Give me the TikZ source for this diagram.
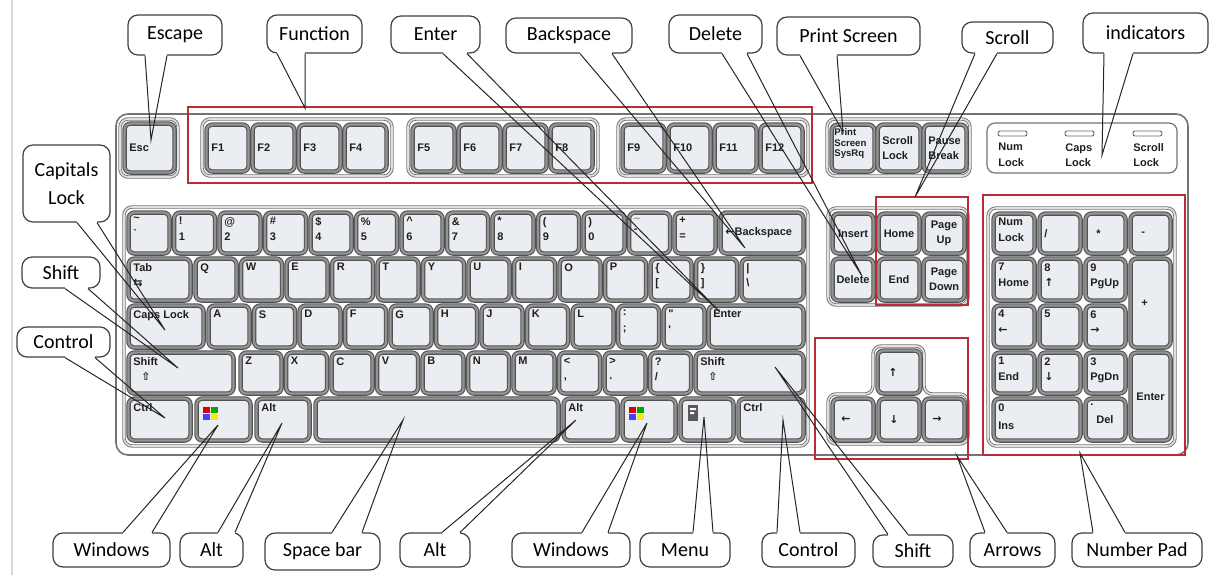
\documentclass[tikz,border=0pt]{standalone}
\usepackage{fontspec}
\setmainfont{Carlito}
\newfontfamily\keyfont{Liberation Sans}
\newfontfamily\symfont{DejaVu Sans}

\definecolor{keyred}{RGB}{185,45,55}
\definecolor{keyface}{RGB}{234,237,241}

\tikzset{
  keycap/.style={draw=black!68, double=black!42, double distance=1.1pt, line width=.55pt,
                 fill=keyface, rounded corners=3pt, inner sep=0pt},
  keytext/.style={font=\keyfont\bfseries\fontsize{5.5}{7.6}\selectfont, align=left, inner sep=0pt, text=black!88},
  keygroup/.style={draw=black!55, double=black!12, double distance=.8pt, line width=.45pt,
                   fill=white, rounded corners=4pt},
  redbox/.style={draw=keyred, line width=1.3pt},
  callout/.style={draw=black!75, line width=.6pt, rounded corners=5pt, fill=white,
                  font=\fontsize{10}{14}\selectfont, inner sep=1pt, align=center},
  pointer/.style={draw=black!85, line width=.5pt},
  gap/.style={draw=white, line width=1.4pt},
  led/.style={draw=black!60, line width=.45pt, fill=white, rounded corners=1pt}
}

% key body, then key with label top left / middle left / centre
\newcommand\kbcap[5]{\node[keycap, minimum width=#4*.5pt, minimum height=#5*.5pt, anchor=north west] (#1) at (#2,#3) {};}
\newcommand\kbkey[7][]{\kbcap{#2}{#3}{#4}{#5}{#6}
  \node[keytext, anchor=north west, #1] (#2-t) at ([shift={(5,5)}]#2.north west) {#7};}
\newcommand\kbkeyw[7][]{\kbcap{#2}{#3}{#4}{#5}{#6}
  \node[keytext, anchor=west, #1] (#2-t) at ([xshift=2.5pt]#2.west) {#7};}
\newcommand\kbkeyc[7][]{\kbcap{#2}{#3}{#4}{#5}{#6}
  \node[keytext, align=center, #1] (#2-t) at (#2) {#7};}
\newcommand\winlogo[2]{%
  \fill[red!85!black] (#1,#2) rectangle ++(7,6);
  \fill[green!65!black] (#1+8,#2) rectangle ++(7,6);
  \fill[blue!75] (#1,#2+7) rectangle ++(7,6);
  \fill[yellow!90!orange] (#1+8,#2+7) rectangle ++(7,6);}
% callout wedge: border anchor, two x values on it, tip
\newcommand\callpointer[4]{\draw[gap] (#2,0 |- #1) -- (#3,0 |- #1);
  \draw[pointer] (#2,0 |- #1) -- (#4) -- (#3,0 |- #1);}

\begin{document}
\begin{tikzpicture}[x=.5pt, y=-.5pt]
  \useasboundingbox (0,0) rectangle (1217,575);
  \draw[black!15, line width=.6pt] (12,0) -- (12,575);

  % keyboard body
  \draw[draw=black!55, line width=.8pt, rounded corners=6pt] (116,114) rectangle (1188,455);

  % function row
  \draw[keygroup] (120,119) rectangle (178,177);
  \kbkeyw{esc}{124}{123}{50}{49}{Esc}
  \draw[keygroup] (202,119) rectangle (392,176);
  \draw[keygroup] (408,119) rectangle (598,176);
  \draw[keygroup] (618,119) rectangle (808,176);
  \foreach \n [count=\i from 0] in {1,...,4} {\kbkeyw{f\n}{206+46*\i}{124}{42}{47}{F\n}}
  \foreach \n [count=\i from 0] in {5,...,8} {\kbkeyw{f\n}{412+46*\i}{124}{42}{47}{F\n}}
  \foreach \n [count=\i from 0] in {9,...,12} {\kbkeyw{f\n}{622+46*\i}{124}{42}{47}{F\n}}
  \draw[keygroup] (827,119) rectangle (970,176);
  \kbkey[font=\keyfont\bfseries\fontsize{4.8}{5.4}\selectfont, shift={(-2,-1)}]{prt}{831}{124}{43}{47}{Print\\Screen\\SysRq}
  \kbkeyw{scrl}{877}{124}{43}{47}{Scroll\\Lock}
  \kbkeyw{pause}{923}{124}{43}{47}{Pause\\Break}

  % indicators
  \draw[draw=black!55, line width=.6pt, rounded corners=4pt] (987,123) rectangle (1177,173);
  \foreach \x/\t in {998/{Num\\Lock},1065/{Caps\\Lock},1133/{Scroll\\Lock}}
    {\draw[led] (\x,131) rectangle ++(29,5);
     \node[keytext, anchor=north west] (led\x) at (\x,143) {\t};}

  % main block
  \draw[keygroup] (124,207) rectangle (808,446);
  \foreach \t [count=\i from 0] in {{\textasciitilde\\\textasciigrave},{!\\1},{@\\2},{\#\\3},{\$\\4},{\%\\5},
      {\textasciicircum\\6},{\&\\7},{*\\8},{(\\9},{)\\0},{\_\\-},{+\\=}}
    {\kbkey{n\i}{128+45.5*\i}{212}{41}{41}{\t}}
  \kbkeyw{bksp}{720}{212}{83}{41}{{\symfont ←}Backspace}
  \kbkey{tab}{128}{258}{62}{42}{Tab\\{\symfont ⇆}}
  \foreach \t [count=\i from 0] in {Q,W,E,R,T,Y,U,I,O,P,{\{\\{[}},{\}\\{]}}}
    {\kbkey{q\i}{195+45.5*\i}{258}{41}{42}{\t}}
  \kbkey{bsl}{741}{258}{62}{42}{|\\\textbackslash}
  \kbkey{caps}{128}{305}{75}{42}{Caps Lock}
  \foreach \t [count=\i from 0] in {A,S,D,F,G,H,J,K,L,{:\\;},{\textquotedbl\\\textquotesingle}}
    {\kbkey{a\i}{208+45.5*\i}{305}{41}{42}{\t}}
  \kbkey{ent}{708}{305}{95}{42}{Enter}
  \kbkey{lshift}{128}{352}{105}{41}{Shift\\\hspace*{4pt}{\symfont ⇧}}
  \foreach \t [count=\i from 0] in {Z,X,C,V,B,N,M,{<\\,},{>\\.},{?\\/}}
    {\kbkey{z\i}{240+45.5*\i}{352}{41}{41}{\t}}
  \kbkey{rshift}{695}{352}{108}{41}{Shift\\\hspace*{4pt}{\symfont ⇧}}
  \kbkey{lctrl}{128}{398}{62}{42}{Ctrl}
  \kbcap{lwin}{196}{398}{54}{42}
  \kbkey{lalt}{256}{398}{53}{42}{Alt}
  \kbcap{space}{315}{398}{243}{42}
  \kbkey{ralt}{563}{398}{54}{42}{Alt}
  \kbcap{rwin}{622}{398}{53}{42}
  \kbcap{menu}{680}{398}{53}{42}
  \kbkey{rctrl}{738}{398}{65}{42}{Ctrl}
  \winlogo{203}{407}
  \winlogo{629}{407}
  \fill[black!65] (688,405) rectangle (698,421);
  \fill[white] (690,408) rectangle (696,410) (690,412) rectangle (694,414);

  % navigation
  \draw[keygroup] (828,208) rectangle (968,305);
  \kbkeyc{ins}{832}{213}{41}{40}{Insert}
  \kbkeyc{home}{878}{213}{41}{40}{Home}
  \kbkeyc{pgup}{923}{213}{41}{40}{Page\\Up}
  \kbkeyc{del}{832}{258}{41}{42}{Delete}
  \kbkeyc{end}{878}{258}{41}{42}{End}
  \kbkeyc{pgdn}{923}{258}{41}{42}{Page\\Down}

  % arrows
  \draw[keygroup] (873,346) -- (924,346) -- (924,394) -- (968,394) -- (968,444)
    -- (828,444) -- (828,394) -- (873,394) -- cycle;
  \kbkeyw[xshift=3pt]{up}{877}{350}{43}{43}{{\symfont ↑}}
  \kbkeyw[xshift=2pt]{left}{832}{398}{41}{42}{{\symfont ←}}
  \kbkeyw[xshift=3pt]{down}{878}{398}{41}{42}{{\symfont ↓}}
  \kbkeyw[xshift=2pt]{right}{923}{398}{41}{42}{{\symfont →}}

  % number pad
  \draw[keygroup] (988,208) rectangle (1175,446);
  \kbkey{num}{993}{213}{41}{40}{Num\\Lock}
  \kbkeyw{kpdiv}{1039}{213}{41}{40}{/}
  \kbkeyw[xshift=3pt]{kpmul}{1085}{213}{40}{40}{*}
  \kbkeyw[xshift=3pt]{kpsub}{1130}{213}{40}{40}{-}
  \kbkey{kp7}{993}{258}{41}{42}{7\\Home}
  \kbkey{kp8}{1039}{258}{41}{42}{8\\{\symfont ↑}}
  \kbkey{kp9}{1085}{258}{40}{42}{9\\PgUp}
  \kbkeyw[xshift=3pt]{kpadd}{1130}{258}{40}{89}{+}
  \kbkey{kp4}{993}{305}{41}{42}{4\\{\symfont ←}}
  \kbkey{kp5}{1039}{305}{41}{42}{5}
  \kbkey{kp6}{1085}{305}{40}{42}{6\\{\symfont →}}
  \kbkey{kp1}{993}{352}{41}{41}{1\\End}
  \kbkey{kp2}{1039}{352}{41}{41}{2\\{\symfont ↓}}
  \kbkey{kp3}{1085}{352}{40}{41}{3\\PgDn}
  \kbkeyc{kpent}{1130}{352}{40}{88}{Enter}
  \kbkey{kp0}{993}{398}{87}{42}{0\\[1.5pt]Ins}
  \kbkey{kpdel}{1085}{398}{40}{42}{.\\[1.5pt]\hspace*{3pt}Del}

  % marked areas
  \draw[redbox] (188,107) rectangle (812,183);
  \draw[redbox] (876,197) rectangle (968,305);
  \draw[redbox] (815,338) rectangle (968,459);
  \draw[redbox] (983,195) rectangle (1185,455);

  % callouts
  \node[callout, minimum width=47pt, minimum height=20pt] (escape) at (175,35) {Escape};
  \node[callout, minimum width=47.5pt, minimum height=19pt] (function) at (314.5,34) {Function};
  \node[callout, minimum width=44.5pt, minimum height=18.5pt] (enter) at (435.5,34.5) {Enter};
  \node[callout, minimum width=63pt, minimum height=17.5pt] (backspace) at (569,35.5) {Backspace};
  \node[callout, minimum width=46.5pt, minimum height=19pt] (delete) at (715.5,34) {Delete};
  \node[callout, minimum width=71.5pt, minimum height=19pt] (prtscr) at (848.5,36) {Print Screen};
  \node[callout, minimum width=45.5pt, minimum height=15.5pt] (scroll) at (1007.5,37.5) {Scroll};
  \node[callout, minimum width=62.5pt, minimum height=20pt] (indicators) at (1145.5,33) {indicators};
  \node[callout, minimum width=43.5pt, minimum height=38.5pt] (capslock) at (66.5,183.5) {Capitals\\Lock};
  \node[callout, minimum width=39pt, minimum height=15.5pt] (lshiftbox) at (61,272.5) {Shift};
  \node[callout, minimum width=46.5pt, minimum height=15pt] (lctrlbox) at (63.5,342) {Control};
  \node[callout, minimum width=58.5pt, minimum height=17pt] (lwinbox) at (111.5,550) {Windows};
  \node[callout, minimum width=31.5pt, minimum height=17pt] (laltbox) at (211.5,550) {Alt};
  \node[callout, minimum width=57.5pt, minimum height=18.5pt] (spacebox) at (322.5,551.5) {Space bar};
  \node[callout, minimum width=35pt, minimum height=17pt] (raltbox) at (435,550) {Alt};
  \node[callout, minimum width=59pt, minimum height=17pt] (rwinbox) at (571,550) {Windows};
  \node[callout, minimum width=45pt, minimum height=17pt] (menubox) at (685,550) {Menu};
  \node[callout, minimum width=46.5pt, minimum height=17pt] (rctrlbox) at (808.5,550) {Control};
  \node[callout, minimum width=40pt, minimum height=16pt] (rshiftbox) at (913,551) {Shift};
  \node[callout, minimum width=42.5pt, minimum height=17pt] (arrowsbox) at (1012.5,550) {Arrows};
  \node[callout, minimum width=65pt, minimum height=17pt] (numpadbox) at (1137,550) {Number Pad};

  % pointer tips
  \coordinate (esc-pt) at (151,140);
  \coordinate (fn-pt) at (305,108);
  \coordinate (ent-pt) at (720,312);
  \coordinate (bksp-pt) at (745,248);
  \coordinate (del-pt) at (862,276);
  \coordinate (prt-pt) at (843,132);
  \coordinate (scrl-pt) at (915,197);
  \coordinate (ind-pt) at (1102,155);
  \coordinate (caps-pt) at (165,330);
  \coordinate (lshift-pt) at (178,368);
  \coordinate (lctrl-pt) at (165,418);
  \coordinate (lwin-pt) at (218,425);
  \coordinate (lalt-pt) at (282,423);
  \coordinate (space-pt) at (403,420);
  \coordinate (ralt-pt) at (576,420);
  \coordinate (rwin-pt) at (647,423);
  \coordinate (menu-pt) at (704,417);
  \coordinate (rctrl-pt) at (783,420);
  \coordinate (rshift-pt) at (775,367);
  \coordinate (arrows-pt) at (957,456);
  \coordinate (numpad-pt) at (1080,453);

  \callpointer{escape.south}{145}{167}{esc-pt}
  \callpointer{function.south}{277}{305}{fn-pt}
  \callpointer{enter.south}{443}{467}{ent-pt}
  \callpointer{backspace.south}{580}{612}{bksp-pt}
  \callpointer{delete.south}{722}{747}{del-pt}
  \callpointer{prtscr.south}{800}{837}{prt-pt}
  \callpointer{scroll.south}{975}{997}{scrl-pt}
  \callpointer{indicators.south}{1104}{1133}{ind-pt}
  \callpointer{capslock.south}{77}{97}{caps-pt}
  \callpointer{lshiftbox.south}{65}{88}{lshift-pt}
  \callpointer{lctrlbox.south}{65}{95}{lctrl-pt}
  \callpointer{lwinbox.north}{123}{152}{lwin-pt}
  \callpointer{laltbox.north}{218}{235}{lalt-pt}
  \callpointer{spacebox.north}{332}{362}{space-pt}
  \callpointer{raltbox.north}{442}{460}{ralt-pt}
  \callpointer{rwinbox.north}{582}{608}{rwin-pt}
  \callpointer{menubox.north}{693}{713}{menu-pt}
  \callpointer{rctrlbox.north}{777}{800}{rctrl-pt}
  \callpointer{rshiftbox.north}{888}{908}{rshift-pt}
  \callpointer{arrowsbox.north}{985}{1007}{arrows-pt}
  \callpointer{numpadbox.north}{1093}{1125}{numpad-pt}
\end{tikzpicture}
\end{document}
